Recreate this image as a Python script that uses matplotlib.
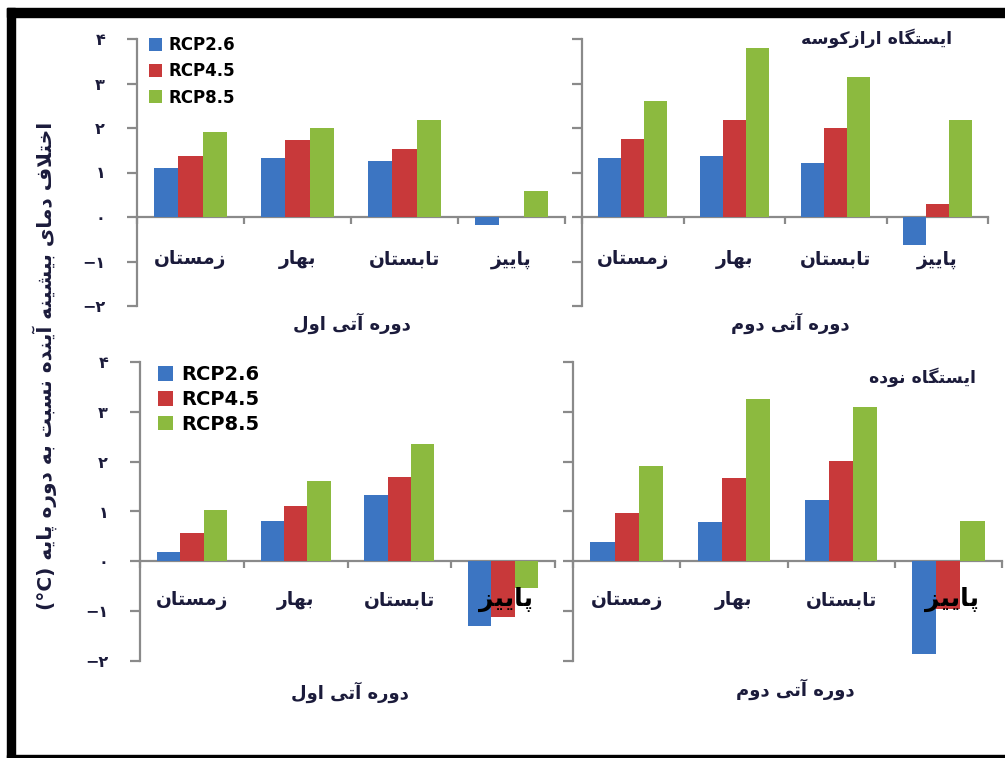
import matplotlib
matplotlib.use("Agg")
import matplotlib.pyplot as plt
from matplotlib.patches import Rectangle
import numpy as np

# data
seasons = ["زمستان", "بهار", "تابستان", "پاییز"]
scenarios = ["RCP2.6", "RCP4.5", "RCP8.5"]
yticks = [-2, -1, 0, 1, 2, 3, 4]
ytick_labels = ["−۲", "−۱", "۰", "۱", "۲", "۳", "۴"]

# station 1 (ارازکوسه)
st1_p1 = {"RCP2.6": [1.10, 1.33, 1.25, -0.18],
          "RCP4.5": [1.37, 1.72, 1.52, 0.0],
          "RCP8.5": [1.90, 2.01, 2.18, 0.59]}
st1_p2 = {"RCP2.6": [1.33, 1.37, 1.21, -0.63],
          "RCP4.5": [1.76, 2.18, 1.99, 0.29],
          "RCP8.5": [2.61, 3.79, 3.14, 2.18]}
# station 2 (نوده)
st2_p1 = {"RCP2.6": [0.19, 0.81, 1.34, -1.30],
          "RCP4.5": [0.57, 1.11, 1.69, -1.12],
          "RCP8.5": [1.04, 1.61, 2.36, -0.53]}
st2_p2 = {"RCP2.6": [0.39, 0.79, 1.23, -1.86],
          "RCP4.5": [0.97, 1.68, 2.01, -0.95],
          "RCP8.5": [1.91, 3.26, 3.09, 0.80]}

period1 = "دوره آتی اول"
period2 = "دوره آتی دوم"
station1 = "ایستگاه ارازکوسه"
station2 = "ایستگاه نوده"
ylabel_fa = "اختلاف دمای بیشینه آینده نسبت به دوره پایه"

colors = ["#3c75c2", "#c8393a", "#8cba3f"]
axis_gray = "#8a8a8a"
text_col = "#1b1b3b"

# --- tiny arabic/persian shaper (matplotlib has no text shaping) ---
FORMS = {
    "ا": ("\uFE8D", "\uFE8E", None, None),
    "آ": ("\uFE81", "\uFE82", None, None),
    "ب": ("\uFE8F", "\uFE90", "\uFE91", "\uFE92"),
    "پ": ("\uFB56", "\uFB57", "\uFB58", "\uFB59"),
    "ت": ("\uFE95", "\uFE96", "\uFE97", "\uFE98"),
    "خ": ("\uFEA5", "\uFEA6", "\uFEA7", "\uFEA8"),
    "د": ("\uFEA9", "\uFEAA", None, None),
    "ر": ("\uFEAD", "\uFEAE", None, None),
    "ز": ("\uFEAF", "\uFEB0", None, None),
    "س": ("\uFEB1", "\uFEB2", "\uFEB3", "\uFEB4"),
    "ش": ("\uFEB5", "\uFEB6", "\uFEB7", "\uFEB8"),
    "ف": ("\uFED1", "\uFED2", "\uFED3", "\uFED4"),
    "ک": ("\uFB8E", "\uFB8F", "\uFB90", "\uFB91"),
    "گ": ("\uFB92", "\uFB93", "\uFB94", "\uFB95"),
    "ل": ("\uFEDD", "\uFEDE", "\uFEDF", "\uFEE0"),
    "م": ("\uFEE1", "\uFEE2", "\uFEE3", "\uFEE4"),
    "ن": ("\uFEE5", "\uFEE6", "\uFEE7", "\uFEE8"),
    "ه": ("\uFEE9", "\uFEEA", "\uFEEB", "\uFEEC"),
    "و": ("\uFEED", "\uFEEE", None, None),
    "ی": ("\uFBFC", "\uFBFD", "\uFBFE", "\uFBFF"),
    "LA": ("\uFEFB", "\uFEFC", None, None),
    "LAA": ("\uFEF5", "\uFEF6", None, None),
}


def fa(text):
    toks = []
    i = 0
    while i < len(text):
        c = text[i]
        if c == "ل" and i + 1 < len(text) and text[i + 1] in "اآ":
            toks.append("LA" if text[i + 1] == "ا" else "LAA")
            i += 2
            continue
        toks.append(c)
        i += 1
    out = []
    for k, t in enumerate(toks):
        if t not in FORMS:
            out.append(t)
            continue
        prev = toks[k - 1] if k > 0 else None
        nxt = toks[k + 1] if k + 1 < len(toks) else None
        jp = prev in FORMS and FORMS[prev][2] is not None
        jn = FORMS[t][2] is not None and nxt in FORMS
        iso, fin, ini, med = FORMS[t]
        if jp and jn:
            out.append(med)
        elif jp:
            out.append(fin)
        elif jn:
            out.append(ini)
        else:
            out.append(iso)
    return "".join(reversed(out))


W, H = 1005, 758
fig = plt.figure(figsize=(W / 100, H / 100), dpi=100)
plt.rcParams["font.family"] = ["DejaVu Sans"]


def px_axes(x0, x1, ytop, ybot):
    return fig.add_axes([x0 / W, 1 - ybot / H, (x1 - x0) / W, (ybot - ytop) / H])


def draw_panel(ax, data, show_labels, leg_size=None, leg_anchor=(0.0, 1.04), leg_space=0.3,
               autumn_big=False, lab_y=-0.95):
    x = np.arange(len(seasons))
    w = 0.225
    handles = []
    for j, sc in enumerate(scenarios):
        b = ax.bar(x + (j - 1) * w, data[sc], w, color=colors[j], label=sc, zorder=2)
        handles.append(b)
    ax.set_xlim(-0.5, 3.5)
    ax.set_ylim(-2, 4)
    for s in ["top", "right"]:
        ax.spines[s].set_visible(False)
    ax.spines["left"].set_color(axis_gray)
    ax.spines["left"].set_linewidth(1.6)
    ax.spines["bottom"].set_position(("data", 0))
    ax.spines["bottom"].set_color(axis_gray)
    ax.spines["bottom"].set_linewidth(1.6)
    ax.spines["bottom"].set_zorder(1)
    ax.set_xticks([-0.5, 0.5, 1.5, 2.5, 3.5])
    ax.set_xticklabels([])
    ax.tick_params(axis="x", direction="out", length=5, width=1.6, color=axis_gray)
    ax.set_yticks(yticks)
    if show_labels:
        ax.set_yticklabels(ytick_labels, fontsize=11.5, fontweight="bold", color=text_col)
    else:
        ax.set_yticklabels([])
    ax.tick_params(axis="y", direction="out", length=7, width=1.6, color=axis_gray, pad=16)
    ax.patch.set_alpha(0)
    for i, name in enumerate(seasons):
        if autumn_big and i == 3:
            ax.text(i + 0.03, -0.77, fa(name), ha="center", va="center", fontsize=18,
                    fontweight="bold", color="black", zorder=5)
        else:
            ax.text(i, lab_y, fa(name), ha="center", va="center", fontsize=13.5,
                    fontweight="bold", color=text_col, zorder=5)
    if leg_size:
        ax.legend(handles=handles, loc="upper left", bbox_to_anchor=leg_anchor,
                  frameon=False, prop={"weight": "bold", "size": leg_size},
                  handlelength=0.8, handleheight=0.8, handletextpad=0.4, labelspacing=leg_space,
                  borderaxespad=0.3)


ax1 = px_axes(137, 565, 39, 306)
draw_panel(ax1, st1_p1, True, leg_size=12, leg_anchor=(0.0, 1.055), leg_space=0.5, lab_y=-0.95)
ax2 = px_axes(582, 988, 39, 306)
draw_panel(ax2, st1_p2, False, lab_y=-0.95)
ax3 = px_axes(140, 555, 362, 661)
draw_panel(ax3, st2_p1, True, leg_size=14, leg_anchor=(0.01, 1.035), autumn_big=True, lab_y=-0.78)
ax4 = px_axes(573, 1002, 362, 661)
draw_panel(ax4, st2_p2, False, autumn_big=True, lab_y=-0.78)

# axis titles and station names
fig.text(352 / W, 1 - 323 / H, fa(period1), ha="center", va="center", fontsize=13,
         fontweight="bold", color=text_col)
fig.text(790 / W, 1 - 323 / H, fa(period2), ha="center", va="center", fontsize=13,
         fontweight="bold", color=text_col)
fig.text(350 / W, 1 - 692 / H, fa(period1), ha="center", va="center", fontsize=13,
         fontweight="bold", color=text_col)
fig.text(795 / W, 1 - 689 / H, fa(period2), ha="center", va="center", fontsize=13,
         fontweight="bold", color=text_col)
fig.text(877 / W, 1 - 38 / H, fa(station1), ha="center", va="center", fontsize=12.5,
         fontweight="bold", color=text_col)
fig.text(922 / W, 1 - 377 / H, fa(station2), ha="center", va="center", fontsize=12.5,
         fontweight="bold", color=text_col)
fig.text(45 / W, 1 - 366 / H, "(°C) " + fa(ylabel_fa), rotation=90, ha="center", va="center",
         fontsize=14.5, fontweight="bold", color=text_col)

# black frame
k = "black"
fig.add_artist(Rectangle((7 / W, 0), 8 / W, 1 - 8 / H, transform=fig.transFigure, color=k))
fig.add_artist(Rectangle((7 / W, 1 - 17 / H), 1, 9 / H, transform=fig.transFigure, color=k))
fig.add_artist(Rectangle((7 / W, 0), 1, 3 / H, transform=fig.transFigure, color=k))

fig.savefig("out.png", dpi=100)
